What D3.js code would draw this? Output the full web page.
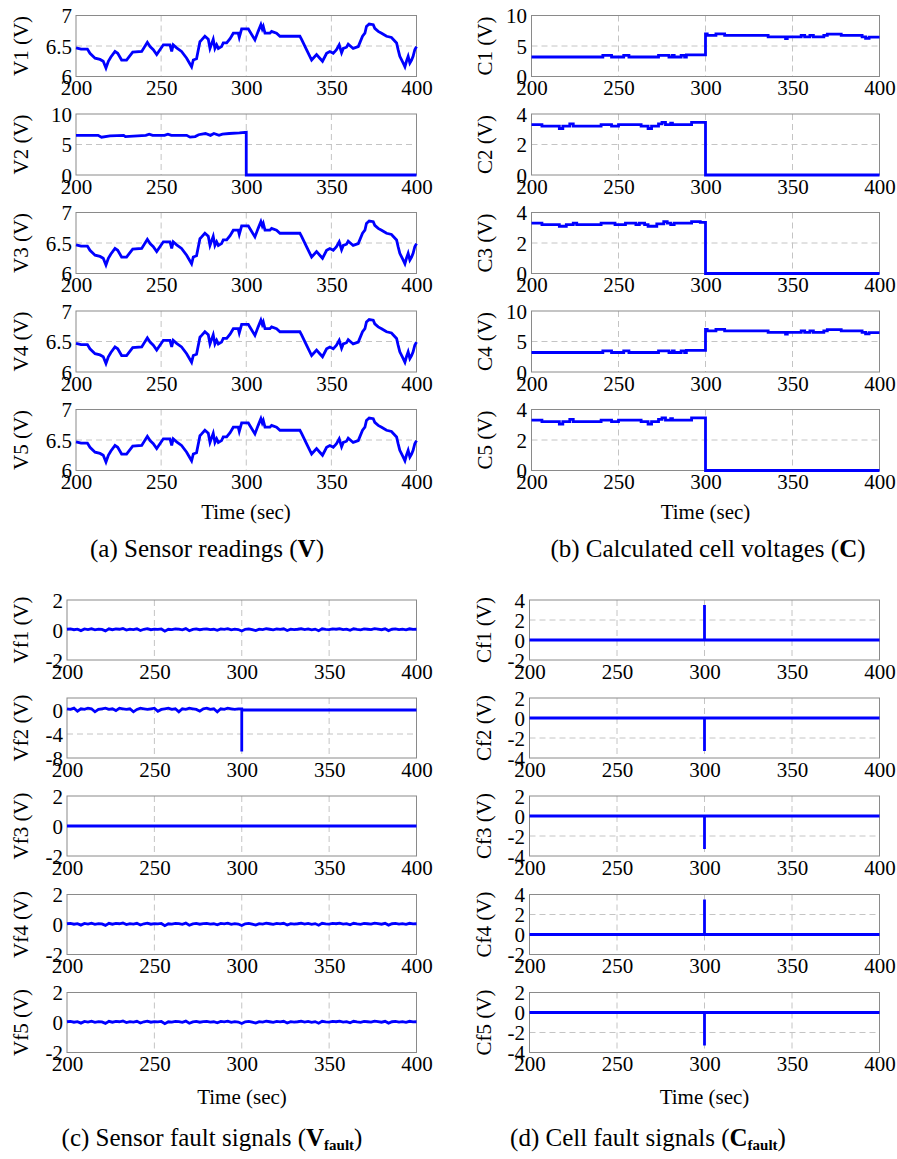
<!DOCTYPE html>
<html><head><meta charset="utf-8">
<script src="https://cdn.jsdelivr.net/npm/d3@7"></script>
<style>
body{margin:0;background:#fff;}
svg{display:block;}
svg text{font-family:"Liberation Serif","Times New Roman",serif !important;fill:#000;}
</style>
</head><body>
<svg id="c" width="897" height="1159"></svg>
<script>
// ---------------- DATA ----------------
const timeTicks = [200, 250, 300, 350, 400];

// Sensor reading shared by V1, V3, V4, V5
const vT = [200,203,206.7,208.2,211.2,214.1,216,217.6,219,220.5,222.9,224.5,226.8,229.7,233.3,238.6,241.9,243.5,245.4,247.4,251.3,255.2,256.2,257.1,259.1,262,265,267.9,268.9,270.8,272.8,273.8,275.7,277.7,278.7,280.6,281.6,282.6,283.6,285.5,286.5,288.5,290.5,292.4,295.3,295.9,297.3,301.2,305.1,307,308.6,309.4,310,311,313.9,314.9,317.8,319.8,331.5,332.5,335.4,338.4,341.3,343.2,344.8,347.2,349.1,351.1,353,354.6,356,357,358.9,359.9,362.8,365.8,368.3,369.7,370.6,372.2,374.6,375.5,377.5,379.5,382.4,385.3,388.3,389.2,390.2,392.2,393.2,394.1,395.1,396.1,397.1,398,399,400];
const vV = [6.47,6.45,6.45,6.38,6.30,6.28,6.25,6.14,6.25,6.32,6.41,6.38,6.27,6.27,6.40,6.41,6.56,6.49,6.44,6.36,6.52,6.52,6.41,6.52,6.47,6.41,6.30,6.16,6.27,6.29,6.57,6.60,6.66,6.61,6.46,6.61,6.46,6.52,6.46,6.49,6.55,6.55,6.62,6.71,6.71,6.64,6.78,6.78,6.60,6.74,6.85,6.78,6.82,6.71,6.71,6.74,6.71,6.66,6.66,6.61,6.44,6.27,6.36,6.30,6.25,6.38,6.41,6.38,6.44,6.52,6.39,6.46,6.48,6.53,6.46,6.49,6.66,6.71,6.82,6.86,6.85,6.79,6.74,6.71,6.66,6.64,6.55,6.44,6.33,6.22,6.16,6.25,6.33,6.22,6.27,6.33,6.44,6.49];

// V2 sensor (fails at 300 s)
const v2T = [200,213,215,220,228,229,241,243,245,252,254,256,265,267,270,272,276,279,281,284,286,290,296,300,300,400];
const v2V = [6.5,6.5,6.2,6.4,6.5,6.3,6.5,6.7,6.5,6.5,6.7,6.5,6.5,6.2,6.3,6.6,6.8,6.5,6.8,6.5,6.7,6.8,6.9,7.0,0,0];

// Calculated cell voltages (step signals)
const c1T = [200,241,246,253,256,273,279,281,282,286,288,289,300,301,306,311,336,346,347,355,357,360,362,368,370,378,390,392,394,400];
const c1V = [3.2,3.45,3.2,3.45,3.2,3.45,3.2,3.45,3.2,3.45,3.2,3.55,7.0,6.75,7.0,6.75,6.5,6.2,6.5,6.75,6.5,6.75,6.5,6.75,6.95,6.75,6.5,6.25,6.45,6.45];
const c2T = [200,206,216,218,222,224,240,246,250,263,267,269,273,275,277,280,281,292,300,400];
const c2V = [3.3,3.2,3.05,3.2,3.35,3.2,3.3,3.2,3.3,3.2,3.05,3.2,3.35,3.45,3.3,3.4,3.3,3.45,0,0];
const c3T = [200,206,216,220,224,226,240,248,254,260,262,265,267,272,276,278,280,282,292,297,300,400];
const c3V = [3.3,3.2,3.1,3.2,3.3,3.2,3.3,3.2,3.3,3.2,3.3,3.2,3.1,3.25,3.4,3.3,3.2,3.3,3.4,3.35,0,0];

// Sensor fault signals: measurement noise sampled every 2 s (200..400)
const vfNoise = [0.05,0.08,0.02,0.06,-0.04,0.07,0.03,0.09,0.01,0.06,
 0.04,-0.06,0.08,0.02,0.07,0.05,0.10,0.00,0.06,0.03,
 0.08,-0.03,0.05,0.09,0.02,0.06,0.04,0.07,-0.08,0.05,
 0.03,0.08,0.06,0.01,0.09,-0.05,0.04,0.07,0.02,0.06,
 0.08,0.03,0.05,-0.02,0.07,0.04,0.09,0.01,0.06,0.03,
 -0.07,0.05,0.08,0.02,-0.04,0.06,0.03,0.09,0.05,0.01,
 0.07,0.04,0.08,-0.03,0.06,0.02,0.05,0.09,0.03,0.07,
 0.01,0.06,-0.05,0.08,0.04,0.02,0.07,0.05,0.09,0.03,
 0.06,-0.02,0.08,0.04,0.01,0.07,0.05,0.03,0.09,0.06,
 0.02,0.08,-0.04,0.05,0.07,0.03,0.06,0.01,0.08,0.04,
 0.05];
// Vf2: noise every 2 s from 200 to 298, then the fault spike and zero
const vf2Noise = [0.2,0.1,0.3,-0.2,0.2,0.1,0.3,0.2,-0.3,0.1,
 0.2,0.3,0.1,0.2,-0.1,0.3,0.2,0.1,0.2,-0.3,
 0.1,0.3,0.2,0.1,0.2,0.3,-0.2,0.1,0.2,0.3,
 0.1,0.2,-0.3,0.2,0.1,0.3,0.2,0.1,-0.2,0.2,
 0.3,0.1,0.2,-0.3,0.2,0.1,0.3,0.2,0.1,0.2];
const vf2TailT = [300, 300, 300, 400];
const vf2TailV = [0.2, -6.9, 0, 0];
const zeroT = [200, 400];
const zeroV = [0, 0];

// Cell fault signals: spike at 300 s
const spikeT = [200, 300, 300, 300, 400];
const cfUpV = [0, 0, 3.5, 0, 0];
const cfDownV = [0, 0, -3.3, 0, 0];

// ---------------- BUILD SERIES ----------------
const zip = (t, v) => t.map((d, i) => [d, v[i]]);
const vSeries = zip(vT, vV);
const v2Series = zip(v2T, v2V);
const c1Series = zip(c1T, c1V);
const c2Series = zip(c2T, c2V);
const c3Series = zip(c3T, c3V);
const vfT = d3.range(vfNoise.length).map(i => 200 + 2 * i);
const vfSeries = zip(vfT, vfNoise);
const vf2Series = zip(vfT.slice(0, vf2Noise.length), vf2Noise).concat(zip(vf2TailT, vf2TailV));
const zeroSeries = zip(zeroT, zeroV);
const cfUp = zip(spikeT, cfUpV);
const cfDown = zip(spikeT, cfDownV);

// ---------------- LAYOUT ----------------
const topRows = [15.5, 114, 212.5, 311, 409.5], topH = 61;
const botRows = [600, 698, 796, 894.5, 992.5], botH = 60;
const cols = {
  a: {x0: 76, x1: 416.5, labX: 28, tickX: 72, rows: topRows, h: topH},
  b: {x0: 531.5, x1: 879.5, labX: 492, tickX: 527, rows: topRows, h: topH},
  c: {x0: 67, x1: 416.5, labX: 28, tickX: 63, rows: botRows, h: botH},
  d: {x0: 529.5, x1: 879.5, labX: 491, tickX: 525, rows: botRows, h: botH}
};

const panels = [
  {col:'a', row:0, label:'V1 (V)', domain:[6,7], ticks:[6,6.5,7], data:vSeries},
  {col:'a', row:1, label:'V2 (V)', domain:[0,10], ticks:[0,5,10], data:v2Series},
  {col:'a', row:2, label:'V3 (V)', domain:[6,7], ticks:[6,6.5,7], data:vSeries},
  {col:'a', row:3, label:'V4 (V)', domain:[6,7], ticks:[6,6.5,7], data:vSeries},
  {col:'a', row:4, label:'V5 (V)', domain:[6,7], ticks:[6,6.5,7], data:vSeries},
  {col:'b', row:0, label:'C1 (V)', domain:[0,10], ticks:[0,5,10], data:c1Series, step:true},
  {col:'b', row:1, label:'C2 (V)', domain:[0,4], ticks:[0,2,4], data:c2Series, step:true},
  {col:'b', row:2, label:'C3 (V)', domain:[0,4], ticks:[0,2,4], data:c3Series, step:true},
  {col:'b', row:3, label:'C4 (V)', domain:[0,10], ticks:[0,5,10], data:c1Series, step:true},
  {col:'b', row:4, label:'C5 (V)', domain:[0,4], ticks:[0,2,4], data:c2Series, step:true},
  {col:'c', row:0, label:'Vf1 (V)', domain:[-2,2], ticks:[-2,0,2], data:vfSeries},
  {col:'c', row:1, label:'Vf2 (V)', domain:[-8,2], ticks:[-8,-4,0], data:vf2Series},
  {col:'c', row:2, label:'Vf3 (V)', domain:[-2,2], ticks:[-2,0,2], data:zeroSeries},
  {col:'c', row:3, label:'Vf4 (V)', domain:[-2,2], ticks:[-2,0,2], data:vfSeries},
  {col:'c', row:4, label:'Vf5 (V)', domain:[-2,2], ticks:[-2,0,2], data:vfSeries},
  {col:'d', row:0, label:'Cf1 (V)', domain:[-2,4], ticks:[-2,0,2,4], data:cfUp},
  {col:'d', row:1, label:'Cf2 (V)', domain:[-4,2], ticks:[-4,-2,0,2], data:cfDown},
  {col:'d', row:2, label:'Cf3 (V)', domain:[-4,2], ticks:[-4,-2,0,2], data:cfDown},
  {col:'d', row:3, label:'Cf4 (V)', domain:[-2,4], ticks:[-2,0,2,4], data:cfUp},
  {col:'d', row:4, label:'Cf5 (V)', domain:[-4,2], ticks:[-4,-2,0,2], data:cfDown}
];

const svg = d3.select('#c');
const FS = 21;
const SERIF = '"Liberation Serif","Times New Roman",serif';

panels.forEach(p => {
  const c = cols[p.col];
  const y0 = c.rows[p.row], y1 = y0 + c.h;
  const x = d3.scaleLinear().domain([200, 400]).range([c.x0, c.x1]);
  const y = d3.scaleLinear().domain(p.domain).range([y1, y0]);
  const g = svg.append('g');

  // grid
  g.selectAll('.gx').data(timeTicks.slice(1, -1)).join('line')
    .attr('x1', d => x(d)).attr('x2', d => x(d)).attr('y1', y0).attr('y2', y1)
    .attr('stroke', '#c4c4c4').attr('stroke-width', 1).attr('stroke-dasharray', '6,4');
  g.selectAll('.gy').data(p.ticks.filter(d => d > p.domain[0] && d < p.domain[1])).join('line')
    .attr('x1', c.x0).attr('x2', c.x1).attr('y1', d => y(d)).attr('y2', d => y(d))
    .attr('stroke', '#c4c4c4').attr('stroke-width', 1).attr('stroke-dasharray', '6,4');

  // box
  g.append('rect').attr('x', c.x0).attr('y', y0).attr('width', c.x1 - c.x0).attr('height', c.h)
    .attr('fill', 'none').attr('stroke', '#8a8a8a').attr('stroke-width', 1);

  // axes (labels only)
  const ax = g.append('g').attr('transform', `translate(0,${y1})`)
    .call(d3.axisBottom(x).tickValues(timeTicks).tickSize(0).tickPadding(0).tickFormat(d3.format('d')));
  ax.attr('font-family', null).attr('font-size', null);
  ax.select('.domain').remove();
  ax.selectAll('text').style('font-family', SERIF).style('font-size', FS + 'px').attr('fill', '#000').attr('dy', null).attr('y', 18.5);

  const ay = g.append('g').attr('transform', `translate(${c.tickX},0)`)
    .call(d3.axisLeft(y).tickValues(p.ticks).tickSize(0).tickPadding(0).tickFormat(d => String(d)));
  ay.attr('font-family', null).attr('font-size', null);
  ay.select('.domain').remove();
  ay.selectAll('text').style('font-family', SERIF).style('font-size', FS + 'px').attr('fill', '#000').attr('x', 0).attr('dy', '0.34em');

  // y label
  g.append('text').attr('transform', `translate(${c.labX},${(y0 + y1) / 2}) rotate(-90)`)
    .attr('text-anchor', 'middle').style('font-size', FS + 'px').text(p.label);

  // series
  const line = d3.line().x(d => x(d[0])).y(d => y(d[1])).curve(p.step ? d3.curveStepAfter : d3.curveLinear);
  g.append('path').datum(p.data).attr('d', line)
    .attr('fill', 'none').attr('stroke', '#0000ff').attr('stroke-width', 2.8)
    .attr('stroke-linejoin', 'miter').attr('stroke-linecap', 'butt');
});

// x labels
const timeLabels = [
  {x: 246, y: 519}, {x: 705.5, y: 519}, {x: 242, y: 1104}, {x: 704.5, y: 1104}
];
svg.selectAll('.tl').data(timeLabels).join('text')
  .attr('x', d => d.x).attr('y', d => d.y).attr('text-anchor', 'middle').style('font-size', FS + 'px')
  .text('Time (sec)');

// captions
const captions = [
  {x: 207, y: 557, pre: '(a) Sensor readings (', sym: 'V', sub: '', post: ')'},
  {x: 708, y: 557, pre: '(b) Calculated cell voltages (', sym: 'C', sub: '', post: ')'},
  {x: 212, y: 1146, pre: '(c) Sensor fault signals (', sym: 'V', sub: 'fault', post: ')'},
  {x: 648, y: 1146, pre: '(d) Cell fault signals (', sym: 'C', sub: 'fault', post: ')'}
];
captions.forEach(cp => {
  const t = svg.append('text').attr('x', cp.x).attr('y', cp.y).attr('text-anchor', 'middle').style('font-size', '25px');
  t.append('tspan').text(cp.pre);
  t.append('tspan').attr('font-weight', 'bold').text(cp.sym);
  if (cp.sub) t.append('tspan').attr('font-weight', 'bold').style('font-size', '15px').attr('dy', 4).text(cp.sub);
  t.append('tspan').attr('dy', cp.sub ? -4 : 0).text(cp.post);
});
</script>
</body></html>
